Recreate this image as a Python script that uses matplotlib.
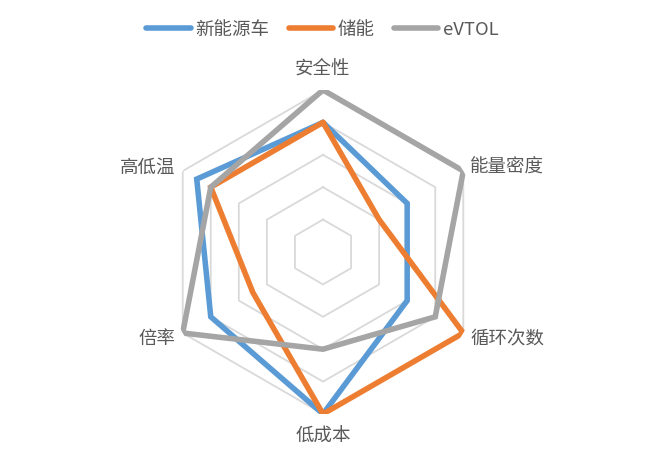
import numpy as np
import matplotlib
matplotlib.use('Agg')
import matplotlib.pyplot as plt

plt.rcParams['font.family'] = ['Noto Sans CJK SC', 'DejaVu Sans']

# Data
categories = ['安全性', '能量密度', '循环次数', '低成本', '倍率', '高低温']
ev = [4, 3, 3, 5, 4, 4.5]
storage = [4, 2, 5, 5, 2.5, 4]
evtol = [5, 5, 4, 3, 5, 4]
series_names = ['新能源车', '储能', 'eVTOL']
colors = ['#5B9BD5', '#ED7D31', '#A5A5A5']

n = len(categories)
angles = np.linspace(0, 2 * np.pi, n, endpoint=False)
closed = np.append(angles, angles[0])

fig = plt.figure(figsize=(6.45, 4.6), dpi=100)
cx, cy, rad = 323, 253, 162
ax = fig.add_axes([(cx - rad) / 645, (460 - cy - rad) / 460, 2 * rad / 645, 2 * rad / 460], polar=True)
ax.set_theta_zero_location('N')
ax.set_theta_direction(-1)
ax.set_ylim(0, 5)
ax.grid(False)
ax.spines['polar'].set_visible(False)
ax.set_xticks([])
ax.set_yticks([])
ax.patch.set_alpha(0)

# hexagonal gridlines
for r in range(1, 6):
    ax.plot(closed, [r] * (n + 1), color='#D9D9D9', lw=1.3, zorder=1)

for name, vals, c in zip(series_names, [ev, storage, evtol], colors):
    v = np.append(vals, vals[0])
    ax.plot(closed, v, color=c, lw=4, label=name, zorder=3,
            solid_joinstyle='miter', solid_capstyle='round')

# category labels
offsets = [(0, 15.8, 'center'), (5, 3, 'left'),
           (5, -3.6, 'left'), (0, -16, 'center'),
           (-5, -3.6, 'right'), (-5, 3, 'right')]
for a, lab, (dx, dy, ha) in zip(angles, categories, offsets):
    ax.annotate(lab, xy=(a, 5), xytext=(dx, dy), textcoords='offset points',
                ha=ha, va='center', fontsize=13.3, color='#595959')

fig.legend(loc='center', bbox_to_anchor=(0.5, 1 - 30 / 460), ncol=3, frameon=False,
           fontsize=13.3, handlelength=2.4, handletextpad=0.25, columnspacing=1.05,
           labelcolor='#595959', borderaxespad=0, borderpad=0)

fig.savefig('out.png', dpi=100)
